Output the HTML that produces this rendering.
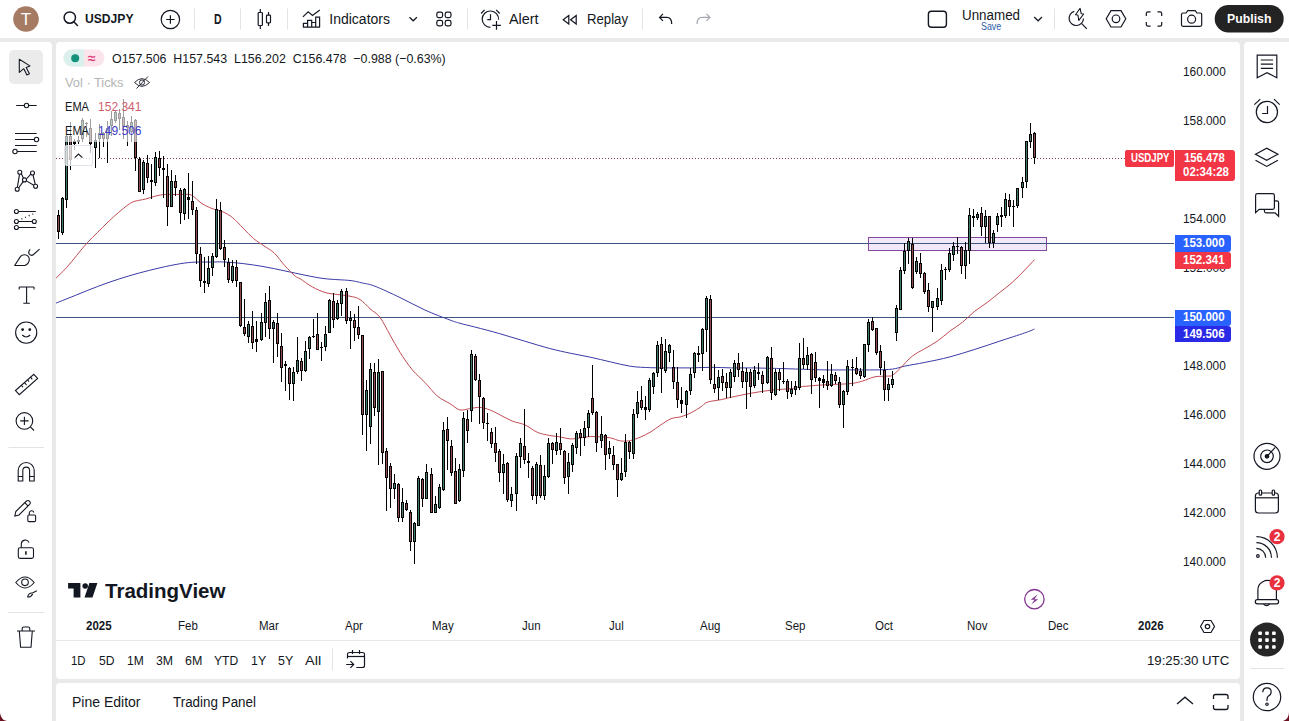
<!DOCTYPE html>
<html><head><meta charset="utf-8">
<style>
*{box-sizing:border-box}
html,body{margin:0;padding:0}
body{width:1289px;height:721px;overflow:hidden;background:#e9e9e9;position:relative;font-family:"Liberation Sans",sans-serif;color:#131722}
.abs{position:absolute}
.t{position:absolute;white-space:nowrap;transform-origin:0 50%}
.panel{position:absolute;background:#fff}
svg{overflow:visible}
</style></head><body>
<!-- panels -->
<div class="panel" style="left:0;top:0;width:1289px;height:38px"></div>
<div class="panel" style="left:0;top:42px;width:52px;height:679px;border-radius:0 4px 0 0"></div>
<div class="panel" style="left:56px;top:42px;width:1184px;height:637px;border-radius:4px"></div>
<div class="panel" style="left:56px;top:683px;width:1184px;height:38px;border-radius:4px 4px 0 0"></div>
<div class="panel" style="left:1244px;top:42px;width:45px;height:679px;border-radius:4px 0 0 0"></div>

<svg class="abs" style="left:0;top:0" width="1289" height="721" viewBox="0 0 1289 721">
<defs><clipPath id="plot"><rect x="56" y="42" width="1118" height="570"/></clipPath></defs>
<g clip-path="url(#plot)">
<line x1="56" y1="158.5" x2="1174" y2="158.5" stroke="#8a3a42" stroke-width="1" stroke-dasharray="1 2"/>
<rect x="868.5" y="237.5" width="178" height="13" fill="#f1e9fa" stroke="#84479a" stroke-width="1"/>
<line x1="56" y1="243.5" x2="1174" y2="243.5" stroke="#3d5580" stroke-width="1"/>
<line x1="56" y1="317.5" x2="1174" y2="317.5" stroke="#3d5580" stroke-width="1"/>
<path d="M56.0 303.1 C59.5 301.7 69.9 297.6 76.8 294.8 C83.7 292.0 90.7 289.1 97.6 286.5 C104.5 283.9 111.5 281.4 118.4 279.2 C125.3 276.9 132.3 274.9 139.2 273.0 C146.1 271.1 153.1 269.4 160.0 267.8 C166.9 266.2 174.9 264.6 180.8 263.6 C186.7 262.7 190.2 262.4 195.4 262.1 C200.6 261.9 207.5 262.1 212.0 262.1 C216.5 262.1 217.2 261.6 222.4 261.9 C227.6 262.1 236.3 262.8 243.2 263.6 C250.1 264.4 257.1 265.5 264.0 266.7 C270.9 267.9 277.8 269.4 284.8 270.9 C291.8 272.3 299.3 274.1 306.0 275.4 C312.7 276.7 317.7 277.8 325.0 278.7 C332.3 279.6 343.8 279.8 350.0 280.5 C356.2 281.2 358.2 282.1 362.4 283.0 C366.5 283.9 368.6 283.8 374.9 286.2 C381.1 288.6 391.6 293.5 399.9 297.5 C408.2 301.5 416.6 306.2 424.9 310.0 C433.2 313.8 444.0 317.8 449.9 320.0 C455.8 322.2 455.9 322.1 460.0 323.3 C464.1 324.5 468.2 325.3 474.8 327.0 C481.4 328.7 491.5 331.3 499.8 333.7 C508.1 336.1 516.5 338.7 524.8 341.2 C533.1 343.7 542.2 346.5 549.8 348.5 C557.4 350.5 563.5 351.8 570.2 353.2 C577.0 354.6 583.6 355.8 590.3 357.2 C597.0 358.6 603.8 360.4 610.5 361.9 C617.2 363.4 624.0 365.3 630.7 366.3 C637.4 367.3 644.1 367.4 650.8 367.7 C657.5 368.0 664.3 367.9 671.0 367.9 C677.7 367.9 684.5 368.0 691.2 367.9 C697.9 367.8 704.7 367.3 711.4 367.3 C718.1 367.3 724.8 367.8 731.5 367.9 C738.2 368.0 745.0 367.8 751.7 367.9 C758.4 368.0 765.2 368.1 771.9 368.3 C778.6 368.5 783.1 368.6 792.0 368.9 C800.9 369.2 815.3 369.7 825.0 369.9 C834.7 370.1 841.7 369.9 850.0 369.9 C858.3 369.9 867.8 370.0 874.9 369.9 C882.0 369.8 887.4 369.7 892.4 369.1 C897.4 368.5 899.5 367.2 904.9 366.1 C910.3 365.0 917.4 363.9 924.9 362.4 C932.4 360.9 941.6 359.1 949.9 356.9 C958.2 354.7 966.5 352.0 974.8 349.4 C983.1 346.8 991.5 343.9 999.8 341.1 C1008.1 338.4 1019.0 334.9 1024.8 332.9 C1030.6 330.9 1032.9 329.7 1034.5 329.1" fill="none" stroke="#3a3aa6" stroke-width="1"/>
<path d="M56.0 278.2 C57.7 276.5 62.9 271.6 66.4 267.8 C69.9 264.0 73.3 259.5 76.8 255.3 C80.3 251.1 83.7 246.6 87.2 242.8 C90.7 239.0 94.1 235.9 97.6 232.4 C101.1 228.9 104.5 225.3 108.0 222.0 C111.5 218.7 114.9 215.5 118.4 212.6 C121.9 209.7 126.0 206.2 128.8 204.3 C131.6 202.4 132.2 202.1 135.0 201.2 C137.8 200.3 141.9 200.0 145.4 199.1 C148.9 198.2 152.7 196.8 155.8 196.0 C158.9 195.2 161.4 194.8 164.2 194.5 C167.0 194.2 169.7 194.5 172.5 194.5 C175.3 194.5 177.7 194.4 180.8 194.5 C183.9 194.6 187.7 193.5 191.2 195.0 C194.7 196.5 198.1 201.1 201.6 203.3 C205.1 205.6 208.5 207.1 212.0 208.5 C215.5 209.9 218.9 210.0 222.4 211.6 C225.9 213.2 229.3 215.0 232.8 217.8 C236.3 220.6 239.7 224.7 243.2 228.2 C246.7 231.7 250.1 235.6 253.6 238.6 C257.1 241.6 260.5 243.5 264.0 245.9 C267.5 248.3 270.9 249.9 274.4 253.2 C277.9 256.5 281.3 261.9 284.8 265.7 C288.3 269.5 292.7 273.9 295.2 276.1 C297.7 278.3 297.1 276.9 300.0 278.7 C302.9 280.5 308.3 284.7 312.5 287.0 C316.7 289.3 320.8 291.2 325.0 292.5 C329.2 293.8 333.3 293.9 337.5 294.5 C341.7 295.1 346.2 295.4 350.0 296.2 C353.8 297.0 356.7 297.4 360.0 299.5 C363.3 301.6 366.7 305.7 370.0 308.7 C373.3 311.7 376.7 313.0 380.0 317.4 C383.3 321.8 386.7 329.1 390.0 334.9 C393.3 340.7 396.3 346.6 400.0 352.4 C403.7 358.2 408.2 364.9 412.4 369.9 C416.5 374.9 420.7 378.0 424.9 382.4 C429.1 386.8 433.2 392.6 437.4 396.1 C441.6 399.6 446.2 401.3 449.9 403.6 C453.6 405.9 456.5 409.1 459.8 409.9 C463.1 410.7 466.5 409.0 469.8 408.6 C473.1 408.2 476.5 407.2 479.8 407.4 C483.1 407.6 486.5 408.7 489.8 409.9 C493.1 411.1 496.1 412.9 499.8 414.8 C503.6 416.7 508.1 419.4 512.3 421.1 C516.5 422.8 520.6 422.9 524.8 424.8 C529.0 426.7 533.1 430.5 537.3 432.3 C541.5 434.1 546.0 434.7 549.8 435.5 C553.6 436.3 556.7 436.3 560.1 436.9 C563.5 437.5 566.8 438.7 570.2 438.9 C573.6 439.1 576.9 438.3 580.3 437.9 C583.6 437.5 586.9 436.7 590.3 436.5 C593.6 436.3 597.0 436.7 600.4 436.9 C603.8 437.1 607.1 437.2 610.5 437.9 C613.9 438.6 617.2 440.5 620.6 440.9 C624.0 441.3 627.3 441.2 630.7 440.5 C634.1 439.8 637.4 438.3 640.8 436.9 C644.1 435.5 647.4 433.9 650.8 431.9 C654.1 429.9 657.5 427.0 660.9 424.8 C664.3 422.6 667.6 420.1 671.0 418.7 C674.4 417.3 677.7 417.7 681.1 416.7 C684.5 415.7 687.8 414.4 691.2 412.7 C694.6 411.0 698.6 408.4 701.3 406.6 C704.0 404.9 703.9 403.4 707.3 402.2 C710.6 401.0 717.4 400.4 721.4 399.6 C725.4 398.8 726.5 398.3 731.5 397.2 C736.5 396.1 745.0 394.3 751.7 393.1 C758.4 391.9 765.2 390.9 771.9 390.1 C778.6 389.3 787.3 389.1 792.0 388.5 C796.7 387.9 794.5 387.4 800.0 386.8 C805.5 386.2 816.7 385.3 825.0 384.8 C833.3 384.3 843.8 384.2 850.0 383.6 C856.2 383.0 858.2 382.2 862.4 381.1 C866.5 380.0 870.7 377.6 874.9 376.8 C879.1 376.0 884.5 376.4 887.4 376.1 C890.3 375.9 890.3 376.6 892.4 375.3 C894.5 374.1 896.6 371.8 899.9 368.6 C903.2 365.4 908.2 359.4 912.4 356.1 C916.6 352.8 920.7 351.1 924.9 348.6 C929.1 346.1 933.2 344.0 937.4 341.1 C941.6 338.2 945.8 334.2 949.9 331.1 C954.0 328.0 958.1 325.7 962.3 322.4 C966.4 319.1 970.6 314.5 974.8 311.2 C979.0 307.9 983.1 305.5 987.3 302.4 C991.5 299.3 995.6 295.7 999.8 292.4 C1004.0 289.1 1008.1 286.1 1012.3 282.4 C1016.5 278.7 1021.1 273.8 1024.8 270.0 C1028.5 266.2 1032.9 261.3 1034.5 259.6" fill="none" stroke="#c24c56" stroke-width="1"/>
<g shape-rendering="crispEdges"><rect x="58" y="210" width="1" height="29" fill="#000"/><rect x="57" y="215" width="3" height="17" fill="#000"/><rect x="58" y="216" width="1" height="15" fill="#8e4c4c"/><rect x="62" y="197" width="1" height="38" fill="#000"/><rect x="61" y="198" width="3" height="35" fill="#000"/><rect x="62" y="199" width="1" height="33" fill="#44786d"/><rect x="66" y="134" width="1" height="74" fill="#000"/><rect x="65" y="136" width="3" height="64" fill="#000"/><rect x="66" y="137" width="1" height="62" fill="#44786d"/><rect x="70" y="122" width="1" height="48" fill="#000"/><rect x="69" y="136" width="3" height="24" fill="#000"/><rect x="70" y="137" width="1" height="22" fill="#8e4c4c"/><rect x="74" y="139" width="1" height="11" fill="#000"/><rect x="73" y="141" width="3" height="3" fill="#000"/><rect x="78" y="136" width="1" height="8" fill="#000"/><rect x="77" y="140" width="3" height="2" fill="#000"/><rect x="82" y="118" width="1" height="24" fill="#000"/><rect x="81" y="120" width="3" height="19" fill="#000"/><rect x="82" y="121" width="1" height="17" fill="#44786d"/><rect x="86" y="122" width="1" height="15" fill="#000"/><rect x="85" y="123" width="3" height="1" fill="#000"/><rect x="90" y="119" width="1" height="34" fill="#000"/><rect x="89" y="128" width="3" height="16" fill="#000"/><rect x="90" y="129" width="1" height="14" fill="#8e4c4c"/><rect x="95" y="133" width="1" height="35" fill="#000"/><rect x="94" y="140" width="3" height="8" fill="#000"/><rect x="95" y="141" width="1" height="6" fill="#44786d"/><rect x="99" y="124" width="1" height="34" fill="#000"/><rect x="98" y="133" width="3" height="6" fill="#000"/><rect x="99" y="134" width="1" height="4" fill="#44786d"/><rect x="103" y="132" width="1" height="15" fill="#000"/><rect x="102" y="133" width="3" height="6" fill="#000"/><rect x="103" y="134" width="1" height="4" fill="#8e4c4c"/><rect x="107" y="121" width="1" height="42" fill="#000"/><rect x="106" y="128" width="3" height="11" fill="#000"/><rect x="107" y="129" width="1" height="9" fill="#44786d"/><rect x="111" y="111" width="1" height="25" fill="#000"/><rect x="110" y="119" width="3" height="7" fill="#000"/><rect x="111" y="120" width="1" height="5" fill="#44786d"/><rect x="115" y="110" width="1" height="13" fill="#000"/><rect x="114" y="112" width="3" height="9" fill="#000"/><rect x="115" y="113" width="1" height="7" fill="#44786d"/><rect x="119" y="109" width="1" height="21" fill="#000"/><rect x="118" y="113" width="3" height="6" fill="#000"/><rect x="119" y="114" width="1" height="4" fill="#8e4c4c"/><rect x="123" y="99" width="1" height="40" fill="#000"/><rect x="122" y="117" width="3" height="9" fill="#000"/><rect x="123" y="118" width="1" height="7" fill="#8e4c4c"/><rect x="127" y="121" width="1" height="25" fill="#000"/><rect x="126" y="125" width="3" height="3" fill="#000"/><rect x="127" y="126" width="1" height="1" fill="#8e4c4c"/><rect x="131" y="116" width="1" height="26" fill="#000"/><rect x="130" y="122" width="3" height="10" fill="#000"/><rect x="131" y="123" width="1" height="8" fill="#44786d"/><rect x="135" y="119" width="1" height="52" fill="#000"/><rect x="134" y="120" width="3" height="38" fill="#000"/><rect x="135" y="121" width="1" height="36" fill="#8e4c4c"/><rect x="139" y="157" width="1" height="35" fill="#000"/><rect x="138" y="159" width="3" height="33" fill="#000"/><rect x="139" y="160" width="1" height="31" fill="#8e4c4c"/><rect x="143" y="160" width="1" height="34" fill="#000"/><rect x="142" y="162" width="3" height="28" fill="#000"/><rect x="143" y="163" width="1" height="26" fill="#44786d"/><rect x="147" y="155" width="1" height="28" fill="#000"/><rect x="146" y="163" width="3" height="15" fill="#000"/><rect x="147" y="164" width="1" height="13" fill="#8e4c4c"/><rect x="151" y="164" width="1" height="35" fill="#000"/><rect x="150" y="180" width="3" height="2" fill="#000"/><rect x="155" y="152" width="1" height="34" fill="#000"/><rect x="154" y="157" width="3" height="26" fill="#000"/><rect x="155" y="158" width="1" height="24" fill="#44786d"/><rect x="159" y="151" width="1" height="25" fill="#000"/><rect x="158" y="158" width="3" height="10" fill="#000"/><rect x="159" y="159" width="1" height="8" fill="#8e4c4c"/><rect x="163" y="156" width="1" height="42" fill="#000"/><rect x="162" y="168" width="3" height="2" fill="#000"/><rect x="167" y="164" width="1" height="62" fill="#000"/><rect x="166" y="176" width="3" height="31" fill="#000"/><rect x="167" y="177" width="1" height="29" fill="#8e4c4c"/><rect x="171" y="170" width="1" height="37" fill="#000"/><rect x="170" y="181" width="3" height="26" fill="#000"/><rect x="171" y="182" width="1" height="24" fill="#44786d"/><rect x="175" y="175" width="1" height="21" fill="#000"/><rect x="174" y="181" width="3" height="7" fill="#000"/><rect x="175" y="182" width="1" height="5" fill="#8e4c4c"/><rect x="180" y="188" width="1" height="36" fill="#000"/><rect x="179" y="190" width="3" height="23" fill="#000"/><rect x="180" y="191" width="1" height="21" fill="#8e4c4c"/><rect x="184" y="188" width="1" height="32" fill="#000"/><rect x="183" y="189" width="3" height="25" fill="#000"/><rect x="184" y="190" width="1" height="23" fill="#44786d"/><rect x="188" y="173" width="1" height="46" fill="#000"/><rect x="187" y="197" width="3" height="3" fill="#000"/><rect x="192" y="181" width="1" height="34" fill="#000"/><rect x="191" y="201" width="3" height="9" fill="#000"/><rect x="192" y="202" width="1" height="7" fill="#8e4c4c"/><rect x="196" y="207" width="1" height="57" fill="#000"/><rect x="195" y="210" width="3" height="44" fill="#000"/><rect x="196" y="211" width="1" height="42" fill="#8e4c4c"/><rect x="200" y="247" width="1" height="40" fill="#000"/><rect x="199" y="254" width="3" height="27" fill="#000"/><rect x="200" y="255" width="1" height="25" fill="#8e4c4c"/><rect x="204" y="257" width="1" height="36" fill="#000"/><rect x="203" y="281" width="3" height="2" fill="#000"/><rect x="208" y="256" width="1" height="31" fill="#000"/><rect x="207" y="268" width="3" height="16" fill="#000"/><rect x="208" y="269" width="1" height="14" fill="#44786d"/><rect x="212" y="253" width="1" height="23" fill="#000"/><rect x="211" y="256" width="3" height="12" fill="#000"/><rect x="212" y="257" width="1" height="10" fill="#44786d"/><rect x="216" y="199" width="1" height="59" fill="#000"/><rect x="215" y="209" width="3" height="48" fill="#000"/><rect x="216" y="210" width="1" height="46" fill="#44786d"/><rect x="220" y="202" width="1" height="48" fill="#000"/><rect x="219" y="210" width="3" height="39" fill="#000"/><rect x="220" y="211" width="1" height="37" fill="#8e4c4c"/><rect x="224" y="240" width="1" height="27" fill="#000"/><rect x="223" y="247" width="3" height="13" fill="#000"/><rect x="224" y="248" width="1" height="11" fill="#8e4c4c"/><rect x="228" y="258" width="1" height="25" fill="#000"/><rect x="227" y="262" width="3" height="18" fill="#000"/><rect x="228" y="263" width="1" height="16" fill="#8e4c4c"/><rect x="232" y="260" width="1" height="23" fill="#000"/><rect x="231" y="266" width="3" height="15" fill="#000"/><rect x="232" y="267" width="1" height="13" fill="#44786d"/><rect x="236" y="260" width="1" height="27" fill="#000"/><rect x="235" y="267" width="3" height="14" fill="#000"/><rect x="236" y="268" width="1" height="12" fill="#8e4c4c"/><rect x="240" y="282" width="1" height="45" fill="#000"/><rect x="239" y="282" width="3" height="44" fill="#000"/><rect x="240" y="283" width="1" height="42" fill="#8e4c4c"/><rect x="244" y="299" width="1" height="37" fill="#000"/><rect x="243" y="327" width="3" height="7" fill="#000"/><rect x="244" y="328" width="1" height="5" fill="#8e4c4c"/><rect x="248" y="321" width="1" height="22" fill="#000"/><rect x="247" y="324" width="3" height="13" fill="#000"/><rect x="248" y="325" width="1" height="11" fill="#44786d"/><rect x="252" y="311" width="1" height="38" fill="#000"/><rect x="251" y="326" width="3" height="17" fill="#000"/><rect x="252" y="327" width="1" height="15" fill="#8e4c4c"/><rect x="256" y="321" width="1" height="31" fill="#000"/><rect x="255" y="339" width="3" height="3" fill="#000"/><rect x="261" y="313" width="1" height="28" fill="#000"/><rect x="260" y="322" width="3" height="18" fill="#000"/><rect x="261" y="323" width="1" height="16" fill="#44786d"/><rect x="265" y="293" width="1" height="44" fill="#000"/><rect x="264" y="302" width="3" height="21" fill="#000"/><rect x="265" y="303" width="1" height="19" fill="#44786d"/><rect x="269" y="286" width="1" height="53" fill="#000"/><rect x="268" y="300" width="3" height="29" fill="#000"/><rect x="269" y="301" width="1" height="27" fill="#8e4c4c"/><rect x="273" y="320" width="1" height="43" fill="#000"/><rect x="272" y="322" width="3" height="7" fill="#000"/><rect x="273" y="323" width="1" height="5" fill="#44786d"/><rect x="277" y="313" width="1" height="44" fill="#000"/><rect x="276" y="323" width="3" height="21" fill="#000"/><rect x="277" y="324" width="1" height="19" fill="#8e4c4c"/><rect x="281" y="333" width="1" height="49" fill="#000"/><rect x="280" y="346" width="3" height="22" fill="#000"/><rect x="281" y="347" width="1" height="20" fill="#8e4c4c"/><rect x="285" y="361" width="1" height="30" fill="#000"/><rect x="284" y="364" width="3" height="2" fill="#000"/><rect x="289" y="367" width="1" height="33" fill="#000"/><rect x="288" y="368" width="3" height="16" fill="#000"/><rect x="289" y="369" width="1" height="14" fill="#8e4c4c"/><rect x="293" y="367" width="1" height="34" fill="#000"/><rect x="292" y="372" width="3" height="12" fill="#000"/><rect x="293" y="373" width="1" height="10" fill="#44786d"/><rect x="297" y="337" width="1" height="37" fill="#000"/><rect x="296" y="360" width="3" height="12" fill="#000"/><rect x="297" y="361" width="1" height="10" fill="#44786d"/><rect x="301" y="358" width="1" height="23" fill="#000"/><rect x="300" y="361" width="3" height="10" fill="#000"/><rect x="301" y="362" width="1" height="8" fill="#8e4c4c"/><rect x="305" y="341" width="1" height="31" fill="#000"/><rect x="304" y="351" width="3" height="20" fill="#000"/><rect x="305" y="352" width="1" height="18" fill="#44786d"/><rect x="309" y="336" width="1" height="23" fill="#000"/><rect x="308" y="337" width="3" height="12" fill="#000"/><rect x="309" y="338" width="1" height="10" fill="#44786d"/><rect x="313" y="319" width="1" height="19" fill="#000"/><rect x="312" y="336" width="3" height="1" fill="#000"/><rect x="317" y="313" width="1" height="37" fill="#000"/><rect x="316" y="334" width="3" height="16" fill="#000"/><rect x="317" y="335" width="1" height="14" fill="#8e4c4c"/><rect x="321" y="342" width="1" height="19" fill="#000"/><rect x="320" y="347" width="3" height="1" fill="#000"/><rect x="325" y="326" width="1" height="25" fill="#000"/><rect x="324" y="334" width="3" height="13" fill="#000"/><rect x="325" y="335" width="1" height="11" fill="#44786d"/><rect x="329" y="299" width="1" height="34" fill="#000"/><rect x="328" y="300" width="3" height="33" fill="#000"/><rect x="329" y="301" width="1" height="31" fill="#44786d"/><rect x="333" y="293" width="1" height="35" fill="#000"/><rect x="332" y="301" width="3" height="19" fill="#000"/><rect x="333" y="302" width="1" height="17" fill="#8e4c4c"/><rect x="337" y="300" width="1" height="20" fill="#000"/><rect x="336" y="303" width="3" height="16" fill="#000"/><rect x="337" y="304" width="1" height="14" fill="#44786d"/><rect x="341" y="289" width="1" height="27" fill="#000"/><rect x="340" y="291" width="3" height="13" fill="#000"/><rect x="341" y="292" width="1" height="11" fill="#44786d"/><rect x="346" y="288" width="1" height="36" fill="#000"/><rect x="345" y="291" width="3" height="30" fill="#000"/><rect x="346" y="292" width="1" height="28" fill="#8e4c4c"/><rect x="350" y="311" width="1" height="38" fill="#000"/><rect x="349" y="318" width="3" height="3" fill="#000"/><rect x="350" y="319" width="1" height="1" fill="#44786d"/><rect x="354" y="314" width="1" height="27" fill="#000"/><rect x="353" y="320" width="3" height="8" fill="#000"/><rect x="354" y="321" width="1" height="6" fill="#8e4c4c"/><rect x="358" y="306" width="1" height="33" fill="#000"/><rect x="357" y="327" width="3" height="8" fill="#000"/><rect x="358" y="328" width="1" height="6" fill="#8e4c4c"/><rect x="362" y="335" width="1" height="100" fill="#000"/><rect x="361" y="335" width="3" height="80" fill="#000"/><rect x="362" y="336" width="1" height="78" fill="#8e4c4c"/><rect x="366" y="380" width="1" height="71" fill="#000"/><rect x="365" y="390" width="3" height="25" fill="#000"/><rect x="366" y="391" width="1" height="23" fill="#44786d"/><rect x="370" y="363" width="1" height="81" fill="#000"/><rect x="369" y="369" width="3" height="58" fill="#000"/><rect x="370" y="370" width="1" height="56" fill="#44786d"/><rect x="374" y="363" width="1" height="53" fill="#000"/><rect x="373" y="372" width="3" height="36" fill="#000"/><rect x="374" y="373" width="1" height="34" fill="#8e4c4c"/><rect x="378" y="359" width="1" height="106" fill="#000"/><rect x="377" y="372" width="3" height="40" fill="#000"/><rect x="378" y="373" width="1" height="38" fill="#44786d"/><rect x="382" y="371" width="1" height="93" fill="#000"/><rect x="381" y="371" width="3" height="82" fill="#000"/><rect x="382" y="372" width="1" height="80" fill="#8e4c4c"/><rect x="386" y="448" width="1" height="63" fill="#000"/><rect x="385" y="451" width="3" height="27" fill="#000"/><rect x="386" y="452" width="1" height="25" fill="#8e4c4c"/><rect x="390" y="463" width="1" height="45" fill="#000"/><rect x="389" y="466" width="3" height="23" fill="#000"/><rect x="390" y="467" width="1" height="21" fill="#8e4c4c"/><rect x="394" y="474" width="1" height="25" fill="#000"/><rect x="393" y="483" width="3" height="6" fill="#000"/><rect x="394" y="484" width="1" height="4" fill="#44786d"/><rect x="398" y="483" width="1" height="39" fill="#000"/><rect x="397" y="484" width="3" height="34" fill="#000"/><rect x="398" y="485" width="1" height="32" fill="#8e4c4c"/><rect x="402" y="488" width="1" height="34" fill="#000"/><rect x="401" y="502" width="3" height="16" fill="#000"/><rect x="402" y="503" width="1" height="14" fill="#44786d"/><rect x="406" y="500" width="1" height="11" fill="#000"/><rect x="405" y="503" width="3" height="7" fill="#000"/><rect x="406" y="504" width="1" height="5" fill="#8e4c4c"/><rect x="410" y="510" width="1" height="41" fill="#000"/><rect x="409" y="512" width="3" height="30" fill="#000"/><rect x="410" y="513" width="1" height="28" fill="#8e4c4c"/><rect x="414" y="522" width="1" height="42" fill="#000"/><rect x="413" y="523" width="3" height="19" fill="#000"/><rect x="414" y="524" width="1" height="17" fill="#44786d"/><rect x="418" y="476" width="1" height="50" fill="#000"/><rect x="417" y="478" width="3" height="48" fill="#000"/><rect x="418" y="479" width="1" height="46" fill="#44786d"/><rect x="422" y="478" width="1" height="29" fill="#000"/><rect x="421" y="479" width="3" height="20" fill="#000"/><rect x="422" y="480" width="1" height="18" fill="#8e4c4c"/><rect x="426" y="464" width="1" height="35" fill="#000"/><rect x="425" y="472" width="3" height="27" fill="#000"/><rect x="426" y="473" width="1" height="25" fill="#44786d"/><rect x="431" y="468" width="1" height="45" fill="#000"/><rect x="430" y="474" width="3" height="39" fill="#000"/><rect x="431" y="475" width="1" height="37" fill="#8e4c4c"/><rect x="435" y="496" width="1" height="17" fill="#000"/><rect x="434" y="504" width="3" height="9" fill="#000"/><rect x="435" y="505" width="1" height="7" fill="#44786d"/><rect x="439" y="484" width="1" height="25" fill="#000"/><rect x="438" y="487" width="3" height="21" fill="#000"/><rect x="439" y="488" width="1" height="19" fill="#44786d"/><rect x="443" y="422" width="1" height="69" fill="#000"/><rect x="442" y="430" width="3" height="60" fill="#000"/><rect x="443" y="431" width="1" height="58" fill="#44786d"/><rect x="447" y="417" width="1" height="53" fill="#000"/><rect x="446" y="429" width="3" height="12" fill="#000"/><rect x="447" y="430" width="1" height="10" fill="#8e4c4c"/><rect x="451" y="440" width="1" height="36" fill="#000"/><rect x="450" y="446" width="3" height="27" fill="#000"/><rect x="451" y="447" width="1" height="25" fill="#8e4c4c"/><rect x="455" y="458" width="1" height="46" fill="#000"/><rect x="454" y="471" width="3" height="33" fill="#000"/><rect x="455" y="472" width="1" height="31" fill="#8e4c4c"/><rect x="459" y="464" width="1" height="38" fill="#000"/><rect x="458" y="469" width="3" height="32" fill="#000"/><rect x="459" y="470" width="1" height="30" fill="#44786d"/><rect x="463" y="412" width="1" height="65" fill="#000"/><rect x="462" y="418" width="3" height="53" fill="#000"/><rect x="463" y="419" width="1" height="51" fill="#44786d"/><rect x="467" y="410" width="1" height="33" fill="#000"/><rect x="466" y="419" width="3" height="12" fill="#000"/><rect x="467" y="420" width="1" height="10" fill="#8e4c4c"/><rect x="471" y="350" width="1" height="72" fill="#000"/><rect x="470" y="354" width="3" height="57" fill="#000"/><rect x="471" y="355" width="1" height="55" fill="#44786d"/><rect x="475" y="354" width="1" height="27" fill="#000"/><rect x="474" y="356" width="3" height="24" fill="#000"/><rect x="475" y="357" width="1" height="22" fill="#8e4c4c"/><rect x="479" y="374" width="1" height="50" fill="#000"/><rect x="478" y="380" width="3" height="17" fill="#000"/><rect x="479" y="381" width="1" height="15" fill="#8e4c4c"/><rect x="483" y="397" width="1" height="32" fill="#000"/><rect x="482" y="398" width="3" height="25" fill="#000"/><rect x="483" y="399" width="1" height="23" fill="#8e4c4c"/><rect x="487" y="413" width="1" height="28" fill="#000"/><rect x="486" y="423" width="3" height="1" fill="#000"/><rect x="491" y="428" width="1" height="20" fill="#000"/><rect x="490" y="432" width="3" height="12" fill="#000"/><rect x="491" y="433" width="1" height="10" fill="#8e4c4c"/><rect x="495" y="427" width="1" height="35" fill="#000"/><rect x="494" y="443" width="3" height="10" fill="#000"/><rect x="495" y="444" width="1" height="8" fill="#8e4c4c"/><rect x="499" y="449" width="1" height="33" fill="#000"/><rect x="498" y="451" width="3" height="22" fill="#000"/><rect x="499" y="452" width="1" height="20" fill="#8e4c4c"/><rect x="503" y="454" width="1" height="40" fill="#000"/><rect x="502" y="464" width="3" height="9" fill="#000"/><rect x="503" y="465" width="1" height="7" fill="#44786d"/><rect x="507" y="462" width="1" height="40" fill="#000"/><rect x="506" y="463" width="3" height="37" fill="#000"/><rect x="507" y="464" width="1" height="35" fill="#8e4c4c"/><rect x="511" y="487" width="1" height="20" fill="#000"/><rect x="510" y="494" width="3" height="7" fill="#000"/><rect x="511" y="495" width="1" height="5" fill="#44786d"/><rect x="516" y="453" width="1" height="58" fill="#000"/><rect x="515" y="456" width="3" height="38" fill="#000"/><rect x="516" y="457" width="1" height="36" fill="#44786d"/><rect x="520" y="438" width="1" height="30" fill="#000"/><rect x="519" y="443" width="3" height="14" fill="#000"/><rect x="520" y="444" width="1" height="12" fill="#44786d"/><rect x="524" y="409" width="1" height="55" fill="#000"/><rect x="523" y="446" width="3" height="14" fill="#000"/><rect x="524" y="447" width="1" height="12" fill="#8e4c4c"/><rect x="528" y="453" width="1" height="25" fill="#000"/><rect x="527" y="461" width="3" height="2" fill="#000"/><rect x="532" y="466" width="1" height="34" fill="#000"/><rect x="531" y="468" width="3" height="28" fill="#000"/><rect x="532" y="469" width="1" height="26" fill="#8e4c4c"/><rect x="536" y="462" width="1" height="42" fill="#000"/><rect x="535" y="464" width="3" height="32" fill="#000"/><rect x="536" y="465" width="1" height="30" fill="#44786d"/><rect x="540" y="455" width="1" height="43" fill="#000"/><rect x="539" y="465" width="3" height="31" fill="#000"/><rect x="540" y="466" width="1" height="29" fill="#8e4c4c"/><rect x="544" y="465" width="1" height="35" fill="#000"/><rect x="543" y="476" width="3" height="20" fill="#000"/><rect x="544" y="477" width="1" height="18" fill="#44786d"/><rect x="548" y="438" width="1" height="40" fill="#000"/><rect x="547" y="443" width="3" height="34" fill="#000"/><rect x="548" y="444" width="1" height="32" fill="#44786d"/><rect x="552" y="442" width="1" height="22" fill="#000"/><rect x="551" y="443" width="3" height="7" fill="#000"/><rect x="552" y="444" width="1" height="5" fill="#8e4c4c"/><rect x="556" y="433" width="1" height="22" fill="#000"/><rect x="555" y="442" width="3" height="9" fill="#000"/><rect x="556" y="443" width="1" height="7" fill="#44786d"/><rect x="560" y="428" width="1" height="27" fill="#000"/><rect x="559" y="443" width="3" height="7" fill="#000"/><rect x="560" y="444" width="1" height="5" fill="#8e4c4c"/><rect x="564" y="450" width="1" height="34" fill="#000"/><rect x="563" y="451" width="3" height="27" fill="#000"/><rect x="564" y="452" width="1" height="25" fill="#8e4c4c"/><rect x="568" y="453" width="1" height="41" fill="#000"/><rect x="567" y="462" width="3" height="15" fill="#000"/><rect x="568" y="463" width="1" height="13" fill="#44786d"/><rect x="572" y="443" width="1" height="29" fill="#000"/><rect x="571" y="445" width="3" height="20" fill="#000"/><rect x="572" y="446" width="1" height="18" fill="#44786d"/><rect x="576" y="431" width="1" height="23" fill="#000"/><rect x="575" y="433" width="3" height="15" fill="#000"/><rect x="576" y="434" width="1" height="13" fill="#44786d"/><rect x="580" y="429" width="1" height="27" fill="#000"/><rect x="579" y="433" width="3" height="5" fill="#000"/><rect x="580" y="434" width="1" height="3" fill="#8e4c4c"/><rect x="584" y="421" width="1" height="25" fill="#000"/><rect x="583" y="428" width="3" height="10" fill="#000"/><rect x="584" y="429" width="1" height="8" fill="#44786d"/><rect x="588" y="410" width="1" height="27" fill="#000"/><rect x="587" y="413" width="3" height="15" fill="#000"/><rect x="588" y="414" width="1" height="13" fill="#44786d"/><rect x="592" y="365" width="1" height="50" fill="#000"/><rect x="591" y="398" width="3" height="15" fill="#000"/><rect x="592" y="399" width="1" height="13" fill="#8e4c4c"/><rect x="596" y="411" width="1" height="41" fill="#000"/><rect x="595" y="412" width="3" height="31" fill="#000"/><rect x="596" y="413" width="1" height="29" fill="#8e4c4c"/><rect x="601" y="416" width="1" height="32" fill="#000"/><rect x="600" y="434" width="3" height="7" fill="#000"/><rect x="601" y="435" width="1" height="5" fill="#44786d"/><rect x="605" y="434" width="1" height="36" fill="#000"/><rect x="604" y="435" width="3" height="20" fill="#000"/><rect x="605" y="436" width="1" height="18" fill="#8e4c4c"/><rect x="609" y="441" width="1" height="18" fill="#000"/><rect x="608" y="448" width="3" height="6" fill="#000"/><rect x="609" y="449" width="1" height="4" fill="#44786d"/><rect x="613" y="446" width="1" height="24" fill="#000"/><rect x="612" y="455" width="3" height="10" fill="#000"/><rect x="613" y="456" width="1" height="8" fill="#8e4c4c"/><rect x="617" y="464" width="1" height="33" fill="#000"/><rect x="616" y="464" width="3" height="16" fill="#000"/><rect x="617" y="465" width="1" height="14" fill="#8e4c4c"/><rect x="621" y="458" width="1" height="23" fill="#000"/><rect x="620" y="473" width="3" height="7" fill="#000"/><rect x="621" y="474" width="1" height="5" fill="#44786d"/><rect x="625" y="434" width="1" height="43" fill="#000"/><rect x="624" y="442" width="3" height="30" fill="#000"/><rect x="625" y="443" width="1" height="28" fill="#44786d"/><rect x="629" y="441" width="1" height="18" fill="#000"/><rect x="628" y="442" width="3" height="10" fill="#000"/><rect x="629" y="443" width="1" height="8" fill="#8e4c4c"/><rect x="633" y="409" width="1" height="50" fill="#000"/><rect x="632" y="414" width="3" height="40" fill="#000"/><rect x="633" y="415" width="1" height="38" fill="#44786d"/><rect x="637" y="391" width="1" height="27" fill="#000"/><rect x="636" y="402" width="3" height="12" fill="#000"/><rect x="637" y="403" width="1" height="10" fill="#44786d"/><rect x="641" y="386" width="1" height="24" fill="#000"/><rect x="640" y="400" width="3" height="8" fill="#000"/><rect x="641" y="401" width="1" height="6" fill="#8e4c4c"/><rect x="645" y="396" width="1" height="24" fill="#000"/><rect x="644" y="407" width="3" height="3" fill="#000"/><rect x="649" y="378" width="1" height="34" fill="#000"/><rect x="648" y="380" width="3" height="30" fill="#000"/><rect x="649" y="381" width="1" height="28" fill="#44786d"/><rect x="653" y="372" width="1" height="22" fill="#000"/><rect x="652" y="373" width="3" height="14" fill="#000"/><rect x="653" y="374" width="1" height="12" fill="#44786d"/><rect x="657" y="341" width="1" height="36" fill="#000"/><rect x="656" y="345" width="3" height="28" fill="#000"/><rect x="657" y="346" width="1" height="26" fill="#44786d"/><rect x="661" y="337" width="1" height="56" fill="#000"/><rect x="660" y="344" width="3" height="25" fill="#000"/><rect x="661" y="345" width="1" height="23" fill="#8e4c4c"/><rect x="665" y="339" width="1" height="34" fill="#000"/><rect x="664" y="351" width="3" height="20" fill="#000"/><rect x="665" y="352" width="1" height="18" fill="#44786d"/><rect x="669" y="344" width="1" height="18" fill="#000"/><rect x="668" y="345" width="3" height="8" fill="#000"/><rect x="669" y="346" width="1" height="6" fill="#44786d"/><rect x="673" y="350" width="1" height="39" fill="#000"/><rect x="672" y="367" width="3" height="15" fill="#000"/><rect x="673" y="368" width="1" height="13" fill="#8e4c4c"/><rect x="677" y="367" width="1" height="41" fill="#000"/><rect x="676" y="382" width="3" height="18" fill="#000"/><rect x="677" y="383" width="1" height="16" fill="#8e4c4c"/><rect x="681" y="387" width="1" height="26" fill="#000"/><rect x="680" y="400" width="3" height="4" fill="#000"/><rect x="686" y="390" width="1" height="28" fill="#000"/><rect x="685" y="391" width="3" height="14" fill="#000"/><rect x="686" y="392" width="1" height="12" fill="#44786d"/><rect x="690" y="368" width="1" height="27" fill="#000"/><rect x="689" y="374" width="3" height="17" fill="#000"/><rect x="690" y="375" width="1" height="15" fill="#44786d"/><rect x="694" y="352" width="1" height="26" fill="#000"/><rect x="693" y="353" width="3" height="20" fill="#000"/><rect x="694" y="354" width="1" height="18" fill="#44786d"/><rect x="698" y="346" width="1" height="16" fill="#000"/><rect x="697" y="353" width="3" height="2" fill="#000"/><rect x="702" y="328" width="1" height="43" fill="#000"/><rect x="701" y="329" width="3" height="25" fill="#000"/><rect x="702" y="330" width="1" height="23" fill="#44786d"/><rect x="706" y="296" width="1" height="56" fill="#000"/><rect x="705" y="298" width="3" height="32" fill="#000"/><rect x="706" y="299" width="1" height="30" fill="#44786d"/><rect x="710" y="295" width="1" height="89" fill="#000"/><rect x="709" y="299" width="3" height="81" fill="#000"/><rect x="710" y="300" width="1" height="79" fill="#8e4c4c"/><rect x="714" y="364" width="1" height="29" fill="#000"/><rect x="713" y="384" width="3" height="5" fill="#000"/><rect x="714" y="385" width="1" height="3" fill="#8e4c4c"/><rect x="718" y="370" width="1" height="30" fill="#000"/><rect x="717" y="377" width="3" height="11" fill="#000"/><rect x="718" y="378" width="1" height="9" fill="#44786d"/><rect x="722" y="369" width="1" height="22" fill="#000"/><rect x="721" y="376" width="3" height="7" fill="#000"/><rect x="722" y="377" width="1" height="5" fill="#8e4c4c"/><rect x="726" y="373" width="1" height="25" fill="#000"/><rect x="725" y="382" width="3" height="6" fill="#000"/><rect x="726" y="383" width="1" height="4" fill="#8e4c4c"/><rect x="730" y="369" width="1" height="29" fill="#000"/><rect x="729" y="372" width="3" height="16" fill="#000"/><rect x="730" y="373" width="1" height="14" fill="#44786d"/><rect x="734" y="360" width="1" height="22" fill="#000"/><rect x="733" y="363" width="3" height="14" fill="#000"/><rect x="734" y="364" width="1" height="12" fill="#44786d"/><rect x="738" y="353" width="1" height="24" fill="#000"/><rect x="737" y="363" width="3" height="7" fill="#000"/><rect x="738" y="364" width="1" height="5" fill="#8e4c4c"/><rect x="742" y="362" width="1" height="26" fill="#000"/><rect x="741" y="371" width="3" height="11" fill="#000"/><rect x="742" y="372" width="1" height="9" fill="#8e4c4c"/><rect x="746" y="368" width="1" height="41" fill="#000"/><rect x="745" y="372" width="3" height="10" fill="#000"/><rect x="746" y="373" width="1" height="8" fill="#44786d"/><rect x="750" y="369" width="1" height="28" fill="#000"/><rect x="749" y="372" width="3" height="15" fill="#000"/><rect x="750" y="373" width="1" height="13" fill="#8e4c4c"/><rect x="754" y="366" width="1" height="22" fill="#000"/><rect x="753" y="370" width="3" height="16" fill="#000"/><rect x="754" y="371" width="1" height="14" fill="#44786d"/><rect x="758" y="363" width="1" height="17" fill="#000"/><rect x="757" y="372" width="3" height="2" fill="#000"/><rect x="762" y="371" width="1" height="22" fill="#000"/><rect x="761" y="375" width="3" height="9" fill="#000"/><rect x="762" y="376" width="1" height="7" fill="#8e4c4c"/><rect x="767" y="356" width="1" height="28" fill="#000"/><rect x="766" y="357" width="3" height="26" fill="#000"/><rect x="767" y="358" width="1" height="24" fill="#44786d"/><rect x="771" y="347" width="1" height="53" fill="#000"/><rect x="770" y="358" width="3" height="35" fill="#000"/><rect x="771" y="359" width="1" height="33" fill="#8e4c4c"/><rect x="775" y="369" width="1" height="27" fill="#000"/><rect x="774" y="372" width="3" height="23" fill="#000"/><rect x="775" y="373" width="1" height="21" fill="#44786d"/><rect x="779" y="369" width="1" height="22" fill="#000"/><rect x="778" y="372" width="3" height="8" fill="#000"/><rect x="779" y="373" width="1" height="6" fill="#8e4c4c"/><rect x="783" y="362" width="1" height="22" fill="#000"/><rect x="782" y="381" width="3" height="1" fill="#000"/><rect x="787" y="379" width="1" height="20" fill="#000"/><rect x="786" y="381" width="3" height="11" fill="#000"/><rect x="787" y="382" width="1" height="9" fill="#8e4c4c"/><rect x="791" y="381" width="1" height="16" fill="#000"/><rect x="790" y="389" width="3" height="5" fill="#000"/><rect x="791" y="390" width="1" height="3" fill="#44786d"/><rect x="795" y="381" width="1" height="14" fill="#000"/><rect x="794" y="386" width="3" height="4" fill="#000"/><rect x="795" y="387" width="1" height="2" fill="#44786d"/><rect x="799" y="343" width="1" height="47" fill="#000"/><rect x="798" y="358" width="3" height="30" fill="#000"/><rect x="799" y="359" width="1" height="28" fill="#44786d"/><rect x="803" y="338" width="1" height="31" fill="#000"/><rect x="802" y="358" width="3" height="7" fill="#000"/><rect x="803" y="359" width="1" height="5" fill="#8e4c4c"/><rect x="807" y="347" width="1" height="23" fill="#000"/><rect x="806" y="355" width="3" height="10" fill="#000"/><rect x="807" y="356" width="1" height="8" fill="#44786d"/><rect x="811" y="353" width="1" height="41" fill="#000"/><rect x="810" y="354" width="3" height="26" fill="#000"/><rect x="811" y="355" width="1" height="24" fill="#8e4c4c"/><rect x="815" y="352" width="1" height="30" fill="#000"/><rect x="814" y="362" width="3" height="16" fill="#000"/><rect x="815" y="363" width="1" height="14" fill="#8e4c4c"/><rect x="819" y="377" width="1" height="31" fill="#000"/><rect x="818" y="378" width="3" height="3" fill="#000"/><rect x="823" y="375" width="1" height="13" fill="#000"/><rect x="822" y="379" width="3" height="4" fill="#000"/><rect x="827" y="361" width="1" height="29" fill="#000"/><rect x="826" y="381" width="3" height="5" fill="#000"/><rect x="827" y="382" width="1" height="3" fill="#8e4c4c"/><rect x="831" y="364" width="1" height="23" fill="#000"/><rect x="830" y="374" width="3" height="12" fill="#000"/><rect x="831" y="375" width="1" height="10" fill="#44786d"/><rect x="835" y="372" width="1" height="12" fill="#000"/><rect x="834" y="375" width="3" height="6" fill="#000"/><rect x="835" y="376" width="1" height="4" fill="#8e4c4c"/><rect x="839" y="377" width="1" height="31" fill="#000"/><rect x="838" y="382" width="3" height="23" fill="#000"/><rect x="839" y="383" width="1" height="21" fill="#8e4c4c"/><rect x="843" y="390" width="1" height="38" fill="#000"/><rect x="842" y="391" width="3" height="14" fill="#000"/><rect x="843" y="392" width="1" height="12" fill="#44786d"/><rect x="847" y="360" width="1" height="35" fill="#000"/><rect x="846" y="366" width="3" height="26" fill="#000"/><rect x="847" y="367" width="1" height="24" fill="#44786d"/><rect x="852" y="359" width="1" height="27" fill="#000"/><rect x="851" y="367" width="3" height="1" fill="#000"/><rect x="856" y="357" width="1" height="18" fill="#000"/><rect x="855" y="368" width="3" height="6" fill="#000"/><rect x="856" y="369" width="1" height="4" fill="#8e4c4c"/><rect x="860" y="368" width="1" height="11" fill="#000"/><rect x="859" y="371" width="3" height="5" fill="#000"/><rect x="860" y="372" width="1" height="3" fill="#8e4c4c"/><rect x="864" y="344" width="1" height="34" fill="#000"/><rect x="863" y="344" width="3" height="33" fill="#000"/><rect x="864" y="345" width="1" height="31" fill="#44786d"/><rect x="868" y="319" width="1" height="33" fill="#000"/><rect x="867" y="322" width="3" height="23" fill="#000"/><rect x="868" y="323" width="1" height="21" fill="#44786d"/><rect x="872" y="317" width="1" height="14" fill="#000"/><rect x="871" y="321" width="3" height="9" fill="#000"/><rect x="872" y="322" width="1" height="7" fill="#8e4c4c"/><rect x="876" y="328" width="1" height="27" fill="#000"/><rect x="875" y="328" width="3" height="25" fill="#000"/><rect x="876" y="329" width="1" height="23" fill="#8e4c4c"/><rect x="880" y="345" width="1" height="30" fill="#000"/><rect x="879" y="351" width="3" height="17" fill="#000"/><rect x="880" y="352" width="1" height="15" fill="#8e4c4c"/><rect x="884" y="361" width="1" height="40" fill="#000"/><rect x="883" y="370" width="3" height="20" fill="#000"/><rect x="884" y="371" width="1" height="18" fill="#8e4c4c"/><rect x="888" y="378" width="1" height="23" fill="#000"/><rect x="887" y="384" width="3" height="6" fill="#000"/><rect x="888" y="385" width="1" height="4" fill="#44786d"/><rect x="892" y="371" width="1" height="17" fill="#000"/><rect x="891" y="379" width="3" height="6" fill="#000"/><rect x="892" y="380" width="1" height="4" fill="#44786d"/><rect x="896" y="305" width="1" height="36" fill="#000"/><rect x="895" y="308" width="3" height="25" fill="#000"/><rect x="896" y="309" width="1" height="23" fill="#44786d"/><rect x="900" y="267" width="1" height="43" fill="#000"/><rect x="899" y="270" width="3" height="40" fill="#000"/><rect x="900" y="271" width="1" height="38" fill="#44786d"/><rect x="904" y="243" width="1" height="31" fill="#000"/><rect x="903" y="251" width="3" height="20" fill="#000"/><rect x="904" y="252" width="1" height="18" fill="#44786d"/><rect x="908" y="238" width="1" height="26" fill="#000"/><rect x="907" y="241" width="3" height="10" fill="#000"/><rect x="908" y="242" width="1" height="8" fill="#44786d"/><rect x="912" y="238" width="1" height="51" fill="#000"/><rect x="911" y="244" width="3" height="44" fill="#000"/><rect x="912" y="245" width="1" height="42" fill="#8e4c4c"/><rect x="916" y="257" width="1" height="17" fill="#000"/><rect x="915" y="261" width="3" height="11" fill="#000"/><rect x="916" y="262" width="1" height="9" fill="#44786d"/><rect x="920" y="253" width="1" height="25" fill="#000"/><rect x="919" y="263" width="3" height="11" fill="#000"/><rect x="920" y="264" width="1" height="9" fill="#8e4c4c"/><rect x="924" y="272" width="1" height="22" fill="#000"/><rect x="923" y="273" width="3" height="19" fill="#000"/><rect x="924" y="274" width="1" height="17" fill="#8e4c4c"/><rect x="928" y="283" width="1" height="29" fill="#000"/><rect x="927" y="290" width="3" height="17" fill="#000"/><rect x="928" y="291" width="1" height="15" fill="#8e4c4c"/><rect x="932" y="301" width="1" height="31" fill="#000"/><rect x="931" y="301" width="3" height="7" fill="#000"/><rect x="932" y="302" width="1" height="5" fill="#44786d"/><rect x="937" y="288" width="1" height="22" fill="#000"/><rect x="936" y="298" width="3" height="9" fill="#000"/><rect x="937" y="299" width="1" height="7" fill="#44786d"/><rect x="941" y="264" width="1" height="41" fill="#000"/><rect x="940" y="270" width="3" height="31" fill="#000"/><rect x="941" y="271" width="1" height="29" fill="#44786d"/><rect x="945" y="267" width="1" height="13" fill="#000"/><rect x="944" y="269" width="3" height="1" fill="#000"/><rect x="949" y="248" width="1" height="24" fill="#000"/><rect x="948" y="253" width="3" height="17" fill="#000"/><rect x="949" y="254" width="1" height="15" fill="#44786d"/><rect x="953" y="242" width="1" height="19" fill="#000"/><rect x="952" y="246" width="3" height="9" fill="#000"/><rect x="953" y="247" width="1" height="7" fill="#44786d"/><rect x="957" y="237" width="1" height="17" fill="#000"/><rect x="956" y="246" width="3" height="1" fill="#000"/><rect x="961" y="246" width="1" height="28" fill="#000"/><rect x="960" y="247" width="3" height="19" fill="#000"/><rect x="961" y="248" width="1" height="17" fill="#8e4c4c"/><rect x="965" y="242" width="1" height="37" fill="#000"/><rect x="964" y="250" width="3" height="16" fill="#000"/><rect x="965" y="251" width="1" height="14" fill="#44786d"/><rect x="969" y="208" width="1" height="56" fill="#000"/><rect x="968" y="215" width="3" height="36" fill="#000"/><rect x="969" y="216" width="1" height="34" fill="#44786d"/><rect x="973" y="209" width="1" height="18" fill="#000"/><rect x="972" y="216" width="3" height="2" fill="#000"/><rect x="977" y="212" width="1" height="8" fill="#000"/><rect x="976" y="214" width="3" height="4" fill="#000"/><rect x="977" y="215" width="1" height="2" fill="#44786d"/><rect x="981" y="207" width="1" height="29" fill="#000"/><rect x="980" y="213" width="3" height="14" fill="#000"/><rect x="981" y="214" width="1" height="12" fill="#8e4c4c"/><rect x="985" y="210" width="1" height="33" fill="#000"/><rect x="984" y="216" width="3" height="11" fill="#000"/><rect x="985" y="217" width="1" height="9" fill="#44786d"/><rect x="989" y="216" width="1" height="32" fill="#000"/><rect x="988" y="216" width="3" height="27" fill="#000"/><rect x="989" y="217" width="1" height="25" fill="#8e4c4c"/><rect x="993" y="230" width="1" height="18" fill="#000"/><rect x="992" y="233" width="3" height="10" fill="#000"/><rect x="993" y="234" width="1" height="8" fill="#44786d"/><rect x="997" y="213" width="1" height="19" fill="#000"/><rect x="996" y="216" width="3" height="9" fill="#000"/><rect x="997" y="217" width="1" height="7" fill="#44786d"/><rect x="1001" y="207" width="1" height="20" fill="#000"/><rect x="1000" y="215" width="3" height="2" fill="#000"/><rect x="1005" y="193" width="1" height="25" fill="#000"/><rect x="1004" y="199" width="3" height="17" fill="#000"/><rect x="1005" y="200" width="1" height="15" fill="#44786d"/><rect x="1009" y="194" width="1" height="22" fill="#000"/><rect x="1008" y="200" width="3" height="7" fill="#000"/><rect x="1009" y="201" width="1" height="5" fill="#8e4c4c"/><rect x="1013" y="200" width="1" height="27" fill="#000"/><rect x="1012" y="206" width="3" height="1" fill="#000"/><rect x="1017" y="188" width="1" height="20" fill="#000"/><rect x="1016" y="188" width="3" height="18" fill="#000"/><rect x="1017" y="189" width="1" height="16" fill="#44786d"/><rect x="1022" y="177" width="1" height="21" fill="#000"/><rect x="1021" y="182" width="3" height="6" fill="#000"/><rect x="1022" y="183" width="1" height="4" fill="#44786d"/><rect x="1026" y="141" width="1" height="47" fill="#000"/><rect x="1025" y="141" width="3" height="41" fill="#000"/><rect x="1026" y="142" width="1" height="39" fill="#44786d"/><rect x="1030" y="123" width="1" height="25" fill="#000"/><rect x="1029" y="134" width="3" height="8" fill="#000"/><rect x="1030" y="135" width="1" height="6" fill="#44786d"/><rect x="1034" y="132" width="1" height="32" fill="#000"/><rect x="1033" y="133" width="3" height="25" fill="#000"/><rect x="1034" y="134" width="1" height="23" fill="#8e4c4c"/></g>
</g>
</svg><div class="t" style="left:1183.3px;top:65.9px;font-size:12.5px;line-height:12.5px;color:#131722;transform:scaleX(0.947);">160.000</div>
<div class="t" style="left:1183.3px;top:114.9px;font-size:12.5px;line-height:12.5px;color:#131722;transform:scaleX(0.947);">158.000</div>
<div class="t" style="left:1183.3px;top:212.9px;font-size:12.5px;line-height:12.5px;color:#131722;transform:scaleX(0.947);">154.000</div>
<div class="t" style="left:1183.3px;top:359.9px;font-size:12.5px;line-height:12.5px;color:#131722;transform:scaleX(0.947);">148.000</div>
<div class="t" style="left:1183.3px;top:408.9px;font-size:12.5px;line-height:12.5px;color:#131722;transform:scaleX(0.947);">146.000</div>
<div class="t" style="left:1183.3px;top:457.9px;font-size:12.5px;line-height:12.5px;color:#131722;transform:scaleX(0.947);">144.000</div>
<div class="t" style="left:1183.3px;top:506.9px;font-size:12.5px;line-height:12.5px;color:#131722;transform:scaleX(0.947);">142.000</div>
<div class="t" style="left:1183.3px;top:555.9px;font-size:12.5px;line-height:12.5px;color:#131722;transform:scaleX(0.947);">140.000</div>
<div class="t" style="left:1183.3px;top:261.9px;font-size:12.5px;line-height:12.5px;color:#131722;transform:scaleX(0.947);">152.000</div>

<!-- legend overlays -->
<div class="abs" style="left:63px;top:97px;width:83px;height:45px;background:rgba(255,255,255,0.62)"></div>
<div class="abs" style="left:64px;top:145px;width:29px;height:21px;background:rgba(255,255,255,0.75);border:1px solid #e0e3eb;border-radius:3px"></div>
<svg class="abs" style="left:0;top:0" width="1289" height="721">
 <path d="M74.7 157.6 L78.5 154 L82.4 157.6" fill="none" stroke="#131722" stroke-width="1.1"/>
 <!-- legend pill -->
 <rect x="63.5" y="49.5" width="41" height="17" rx="8.5" fill="#fce4ec"/>
 <path d="M72 49.5 H84 V66.5 H72 A8.5 8.5 0 0 1 72 49.5 Z" fill="#daf0ec"/>
 <circle cx="75.2" cy="58.2" r="4" fill="#15927c"/>
 <text x="88" y="63" font-family="Liberation Sans" font-size="14" font-weight="bold" fill="#e0407a">≈</text>
 <!-- vol eye icon -->
 <g fill="none" stroke="#2a2e39" stroke-width="1">
  <path d="M134.5 82.5 Q142 74.8 149.5 82.5 Q142 90.2 134.5 82.5Z"/>
  <circle cx="142" cy="82.5" r="2.6"/>
  <path d="M136.5 88.5 L148 76.5"/>
 </g>
 <!-- TV logo -->
 <path d="M68.1 583.1 H80.4 V597.4 H73.6 V588.6 H68.1 Z" fill="#131722"/>
 <circle cx="85.2" cy="585.9" r="2.75" fill="#131722"/>
 <path d="M89.4 583.1 H97.4 L92.5 597.4 H84.5 Z" fill="#131722"/>
 <!-- lightning circle -->
 <circle cx="1034.4" cy="599.2" r="9.7" fill="#fff" stroke="#82308f" stroke-width="1.3"/>
 <path d="M1037.7 594.3 L1030.8 599.7 H1034.6 L1031.2 604.6 L1038.2 599.2 H1034.4 Z" fill="#82308f"/>
 <!-- time axis settings hex -->
 <g fill="none" stroke="#131722" stroke-width="1.2">
  <path d="M1203.5 626.5 L1207 620.5 H1214 L1217.5 626.5 L1214 632.5 H1207 Z" transform="translate(-3,0)"/>
  <circle cx="1207.5" cy="626.5" r="2.2"/>
 </g>
 <!-- range bar separator & calendar -->
 <line x1="332.5" y1="648.5" x2="332.5" y2="670.5" stroke="#e3e3e3"/>
 <g fill="none" stroke="#131722" stroke-width="1.2">
  <path d="M347.5 658.5 V654.5 Q347.5 652.5 349.5 652.5 H362.5 Q364.5 652.5 364.5 654.5 V665.5 Q364.5 667.5 362.5 667.5 H356.3"/>
  <path d="M347.5 656.5 H364.5"/>
  <path d="M352.5 650 V654 M359.5 650 V654"/>
  <path d="M346.2 664.5 H353.7 M350.4 661.2 L353.7 664.5 L350.4 667.8"/>
 </g>
 <line x1="56" y1="640.5" x2="1240" y2="640.5" stroke="#e8e8ea"/>
 <!-- bottom panel icons -->
 <path d="M1177 704 L1185 697.2 L1193 704" fill="none" stroke="#131722" stroke-width="1.3"/>
 <g fill="none" stroke="#131722" stroke-width="1.3">
  <path d="M1213.5 699 V696.5 Q1213.5 694.5 1215.5 694.5 H1226 Q1228 694.5 1228 696.5 V699"/>
  <path d="M1213.5 705 V707.5 Q1213.5 709.5 1215.5 709.5 H1226 Q1228 709.5 1228 707.5 V705"/>
 </g>
</svg>

<!-- top toolbar icons -->
<svg class="abs" style="left:0;top:0" width="1289" height="38">
 <circle cx="26" cy="19" r="12.8" fill="#a67b63"/>
 <g fill="none" stroke="#131722" stroke-width="1.5" stroke-linecap="round">
  <circle cx="69.8" cy="17.6" r="5.7"/>
  <path d="M73.9 21.8 L77.4 25.4"/>
 </g>
 <g fill="none" stroke="#131722" stroke-width="1.2">
  <circle cx="170.4" cy="19.5" r="9.2"/>
  <path d="M166.2 19.5 H174.6 M170.4 15.3 V23.7"/>
  <path d="M260.3 9 V12.5 M260.3 25.5 V29 M268.5 12 V15.2 M268.5 22.9 V26"/>
  <rect x="258.2" y="12.5" width="4.2" height="13" rx="0.8"/>
  <rect x="266.5" y="15.2" width="4" height="7.7" rx="0.8"/>
  <path d="M302.9 16.9 L308.2 11.9 L312.5 15.4 L319.8 9.9"/>
  <path d="M303.4 27.2 V23.3 H307.6 V27.2 M307.6 27.2 V20.4 H311.7 V27.2 M311.7 27.2 V22.5 H315.7 V27.2 M315.7 27.2 V17.2 H319.6 V27.2 M303 27.2 H320"/>
  <path d="M409.5 17.2 L413.2 20.8 L416.9 17.2"/>
  <rect x="436.8" y="12.2" width="5.8" height="5.4" rx="1.8"/>
  <rect x="445.2" y="12.2" width="5.8" height="5.4" rx="1.8"/>
  <rect x="436.8" y="20.4" width="5.8" height="5.4" rx="1.8"/>
  <rect x="445.2" y="20.4" width="5.8" height="5.4" rx="1.8"/>
  <path d="M490.4 27.4 A8.2 8.2 0 1 1 498.6 19.6"/>
  <path d="M490.5 14.3 V19.6 H487.3"/>
  <path d="M481.1 13.5 L484.6 9.8 M499.7 13.5 L496.2 9.8"/>
  <path d="M492.3 25.4 H500.9 M496.5 21.1 V29.7"/>
  <path d="M568.8 15.5 L563.2 19.8 L568.8 24.1 Z M576.2 15.5 L570.6 19.8 L576.2 24.1 Z"/>
  <path d="M663 13.9 L659.6 17.4 L663 20.8 M659.8 17.4 H666.7 Q671.7 17.4 671.7 23.9"/>
 </g>
 <path d="M706.5 13.9 L709.9 17.4 L706.5 20.8 M709.7 17.4 H702.1 Q697.1 17.4 697.1 23.9" fill="none" stroke="#a3a6af" stroke-width="1.2"/>
 <g fill="none" stroke="#e3e3e3" stroke-width="1">
  <path d="M194.5 8.5 V29.5 M240.5 8.5 V29.5 M287.5 8.5 V29.5 M467.5 8.5 V29.5 M642.5 8.5 V29.5 M1054.5 8.5 V29.5"/>
 </g>
 <g fill="none" stroke="#131722" stroke-width="1.4">
  <rect x="928.4" y="11.3" width="18" height="15.9" rx="3"/>
  <path d="M1034.2 17 L1038.1 20.8 L1042 17" stroke-width="1.2"/>
 </g>
 <g fill="none" stroke="#131722" stroke-width="1.2">
  <path d="M1074.3 11.4 A7.2 7.2 0 1 0 1083.5 18.4"/>
  <path d="M1081.7 23.7 L1086.8 28.8"/>
  <path d="M1080.1 8.3 L1075.5 14.7 L1077.9 15 L1078.8 20.4 L1083.7 14 L1081.2 13.7 Z" stroke-linejoin="round" stroke-width="1.1"/>
  <path d="M1106.2 18.8 L1111 10.6 H1121 L1125.8 18.8 L1121 27 H1111 Z"/>
  <circle cx="1116" cy="18.8" r="3.8"/>
  <path d="M1146.3 16 V13.5 Q1146.3 11.8 1148 11.8 H1150.5 M1157.5 11.8 H1160 Q1161.7 11.8 1161.7 13.5 V16 M1161.7 22 V24.4 Q1161.7 26.1 1160 26.1 H1157.5 M1150.5 26.1 H1148 Q1146.3 26.1 1146.3 24.4 V22"/>
  <path d="M1181.5 14.5 Q1181.5 13 1183 13 H1186 L1187.8 10.6 H1195.2 L1197 13 H1200.2 Q1201.7 13 1201.7 14.5 V24.8 Q1201.7 26.3 1200.2 26.3 H1183 Q1181.5 26.3 1181.5 24.8 Z"/>
  <circle cx="1191.6" cy="19.2" r="4"/>
 </g>
 <rect x="1214.7" y="5" width="69" height="27.6" rx="13.8" fill="#232323"/>
</svg>

<!-- left toolbar -->
<div class="abs" style="left:9.3px;top:50px;width:33.7px;height:33.5px;background:#ebebeb;border-radius:5px"></div>
<svg class="abs" style="left:0;top:42px" width="52" height="679" viewBox="0 42 52 679">
 <g fill="none" stroke="#131722" stroke-width="1.1">
  <path d="M19.3 59.3 L29.9 65.9 L26.2 67.4 L29.4 73.7 L26.9 74.9 L23.8 68.7 L19.3 72.4 Z" stroke-linejoin="round"/>
  <path d="M16.2 105.5 H24.3 M28.7 105.5 H36.7"/><circle cx="26.5" cy="105.5" r="2.2"/>
  <path d="M15 133.5 H36.7 M15 139.5 H34.5 M15 145.5 H36.7 M17.2 151.5 H36.7"/>
  <circle cx="36.5" cy="139.5" r="2.2"/><circle cx="15" cy="151.5" r="2.2"/>
  <circle cx="19.8" cy="172.3" r="2"/><circle cx="32.5" cy="173" r="2"/><circle cx="24.5" cy="179.9" r="2"/><circle cx="17.2" cy="189.2" r="2"/><circle cx="35.6" cy="186.2" r="2"/>
  <path d="M19.5 174.3 L17.4 187.2 M18.6 188 L23.3 181.4 M21.4 173.8 L23.4 178.2 M26.4 179 L30.8 174.2 M33 175 L35.2 184.2 M26.4 180.9 L33.8 185.3"/>
  <circle cx="16.4" cy="211.5" r="2"/><circle cx="16.4" cy="221.5" r="2"/><circle cx="16.4" cy="227.5" r="2"/><circle cx="34.3" cy="221.5" r="2"/>
  <path d="M18.4 211.5 H35.8 M18.4 221.5 H32.3 M18.4 227.5 H35.8"/>
  <path d="M21.4 219.1 L34 213.5" stroke-dasharray="1 3" stroke-width="1.3"/>
  <path d="M14.7 265.5 L25 265.5 Q29.6 263.2 29.3 259 Q28.6 254.8 24.4 254.8 Q21.2 254.8 19.9 257.4 Z" stroke-linejoin="round"/>
  <path d="M30.2 249.4 Q27.6 252.4 29.5 254.4 Q31.5 256.3 33.5 254.5 L39.6 249.2"/>
  <path d="M19.2 287 H34 M26.6 287 V303.3 M23.3 303.3 H29.9 M19.2 287 V289.5 M34 287 V289.5"/>
  <circle cx="26.2" cy="332.6" r="10.6"/><circle cx="22.6" cy="329.6" r="0.9" fill="#131722"/><circle cx="29.8" cy="329.6" r="0.9" fill="#131722"/>
  <path d="M22.2 335 Q26.2 339 30.2 335"/>
  <path d="M15.5 390.5 L33.8 374.3 L37.6 378.5 L19.3 394.7 Z"/>
  <path d="M21.5 385.5 L23 387.2 M24.5 382.7 L26.5 385 M27.6 380 L29.1 381.7 M30.5 377.2 L32.3 379.3"/>
  <circle cx="24.4" cy="420.9" r="8.3"/>
  <path d="M30.4 426.9 L34 430.5 M20.2 420.9 H28.6 M24.4 416.7 V425.1"/>
  <path d="M18.2 481 V470.5 A8 8 0 0 1 34.2 470.5 V481 H29.6 V470.5 A3.4 3.4 0 0 0 22.8 470.5 V481 Z M18.2 476.5 H22.8 M29.6 476.5 H34.2"/>
  <path d="M14.8 516 L15.8 511.5 L26.5 501 Q28.3 499.8 29.7 501.3 Q31 502.8 29.6 504.4 L19 515 Z M24.8 502.7 L27.9 505.8"/>
  <rect x="27.8" y="515" width="7.8" height="6.6" rx="1.2"/><path d="M29.3 515 V512.8 A2.3 2.3 0 0 1 33.8 512.5"/>
  <rect x="18.3" y="547.8" width="15.2" height="10.6" rx="1.8"/><path d="M21.3 547.8 V543.8 A4 4 0 0 1 29 542.6"/><path d="M25.9 551.2 V554.8" stroke-width="1.6"/>
  <path d="M15.8 582.5 Q25 571.5 34.2 582.5 Q25 593.5 15.8 582.5 Z"/><circle cx="25" cy="582.3" r="3.3"/>
  <path d="M27.5 596.8 Q29 592.5 32.5 593 L36.8 590.8 M27.3 597 Q31 597.5 32.6 594"/>
  <path d="M17 631 H35 M22.2 631 V628.5 Q22.2 627 23.7 627 H28.3 Q29.8 627 29.8 628.5 V631 M19.3 631 L20.6 647.2 H31 L32.3 631"/>
 </g>
 <path d="M8.5 447.5 H44 M8 612.5 H44" stroke="#e3e3e3" stroke-width="1"/>
</svg>

<!-- right toolbar -->
<svg class="abs" style="left:1244px;top:42px" width="45" height="679" viewBox="1244 42 45 679">
 <g fill="none" stroke="#131722" stroke-width="1.2">
  <path d="M1257.2 55.2 H1276.8 V77.7 L1267 72.6 L1257.2 77.7 Z"/>
  <path d="M1260.8 60 H1273.1 M1260.8 64.1 H1273.1 M1260.8 68.3 H1273.1"/>
  <circle cx="1266.9" cy="112" r="10.6"/>
  <path d="M1267.5 106 V113.5 H1262.1 M1254.3 104.6 L1260.3 99.1 M1279.7 104.6 L1274 99.1"/>
  <path d="M1255.5 154.2 L1266.7 148.2 L1277.9 154.2 L1266.7 160.2 Z M1255.5 160.2 L1266.7 166.4 L1277.9 160.2"/>
  <path d="M1255.6 212.6 V195.5 Q1255.6 193.7 1257.4 193.7 H1272.6 Q1274.4 193.7 1274.4 195.5 V207.5 Q1274.4 209.3 1272.6 209.3 H1259.2 Z"/>
  <path d="M1274.4 200.8 H1276.8 Q1278.6 200.8 1278.6 202.6 V216.3 L1275 212.8 H1266.2 Q1264.4 212.8 1264.4 211 V209.3"/>
  <circle cx="1267" cy="456.3" r="13"/><circle cx="1267" cy="456.3" r="6.3"/><circle cx="1267" cy="456.3" r="1.8" fill="#131722"/><path d="M1267 456.3 L1275.3 447.3"/>
  <rect x="1255.4" y="493" width="23" height="20" rx="3"/><path d="M1255.4 497.8 H1278.4"/>
  <rect x="1259.2" y="490" width="2.4" height="5.2" rx="1" fill="#fff"/><rect x="1272.2" y="490" width="2.4" height="5.2" rx="1" fill="#fff"/>
  <path d="M1256.4 548.4 A9.3 9.3 0 0 1 1265.7 557.7 M1256.4 542.6 A15.1 15.1 0 0 1 1271.5 557.7 M1256.4 536.7 A21 21 0 0 1 1277.4 557.7"/>
  <circle cx="1257.9" cy="556" r="1.3"/>
  <path d="M1257.9 599.7 V590 Q1257.9 584.5 1262 582.2 L1264.8 580.7 Q1269.5 579.6 1272.5 581.5 Q1276.4 584.5 1276.4 590 V599.7"/>
  <rect x="1255.3" y="599.7" width="23.3" height="4.1" rx="2"/>
  <path d="M1263.5 603.8 Q1266.6 607.6 1269.8 603.8"/>
  <circle cx="1267" cy="697" r="13.7"/>
  <path d="M1262.8 692.2 Q1262.8 687.8 1267 687.8 Q1271.2 687.8 1271.2 692 Q1271.2 694.5 1268.5 696 Q1267 697 1267 699.5 V701"/>
  <circle cx="1267" cy="704.2" r="1.2"/>
 </g>
 <circle cx="1277" cy="536.7" r="7.6" fill="#e8303f"/>
 <circle cx="1277" cy="582.8" r="7.6" fill="#e8303f"/>
 <text x="1277" y="541" font-family="Liberation Sans" font-size="12" font-weight="bold" fill="#fff" text-anchor="middle">2</text>
 <text x="1277" y="587.1" font-family="Liberation Sans" font-size="12" font-weight="bold" fill="#fff" text-anchor="middle">2</text>
 <circle cx="1267" cy="639.6" r="17" fill="#262626"/>
 <g fill="#fff">
  <rect x="1258.3" y="631.4" width="3.6" height="3.6" rx="0.8"/><rect x="1265.2" y="631.4" width="3.6" height="3.6" rx="0.8"/><rect x="1272.1" y="631.4" width="3.6" height="3.6" rx="0.8"/>
  <rect x="1258.3" y="638.3" width="3.6" height="3.6" rx="0.8"/><rect x="1265.2" y="638.3" width="3.6" height="3.6" rx="0.8"/><rect x="1272.1" y="638.3" width="3.6" height="3.6" rx="0.8"/>
  <rect x="1258.3" y="645.2" width="3.6" height="3.6" rx="0.8"/><rect x="1265.2" y="645.2" width="3.6" height="3.6" rx="0.8"/><rect x="1272.1" y="645.2" width="3.6" height="3.6" rx="0.8"/>
 </g>
 <path d="M1250 668.5 H1284" stroke="#e3e3e3"/>
 <path d="M1283 721 Q1289 719 1289 712 V721 Z" fill="#6b1020"/>
</svg>
<svg class="abs" style="left:0;top:700px" width="10" height="21"><path d="M0 13 Q1 20 7 21 H0 Z" fill="#6b1020"/></svg>


<div class="abs" style="left:1125px;top:150px;width:49px;height:16.5px;background:#f23645;border-radius:2px"></div>
<div class="abs" style="left:1175px;top:150px;width:60px;height:30.5px;background:#f23645;border-radius:0 3px 3px 0"></div>
<div class="abs" style="left:1175px;top:235.3px;width:56px;height:16.5px;background:#2962ff;border-radius:0 3px 3px 0"></div>
<div class="abs" style="left:1175px;top:252.3px;width:56px;height:16.5px;background:#f23645;border-radius:0 3px 3px 0"></div>
<div class="abs" style="left:1175px;top:309.5px;width:56px;height:16.3px;background:#2962ff;border-radius:0 3px 3px 0"></div>
<div class="abs" style="left:1175px;top:326px;width:56px;height:16.3px;background:#2a2ae6;border-radius:0 3px 3px 0"></div>
<div class="t" style="left:1130.5px;top:152.2px;font-size:12.5px;line-height:12.5px;color:#fff;font-weight:bold;transform:scaleX(0.770);">USDJPY</div>
<div class="t" style="left:1184.0px;top:152.2px;font-size:12.5px;line-height:12.5px;color:#fff;font-weight:bold;transform:scaleX(0.901);">156.478</div>
<div class="t" style="left:1183.0px;top:166.4px;font-size:12.5px;line-height:12.5px;color:#fff;font-weight:bold;transform:scaleX(0.919);">02:34:28</div>
<div class="t" style="left:1183.3px;top:237.4px;font-size:12.5px;line-height:12.5px;color:#fff;font-weight:bold;transform:scaleX(0.921);">153.000</div>
<div class="t" style="left:1183.3px;top:254.4px;font-size:12.5px;line-height:12.5px;color:#fff;font-weight:bold;transform:scaleX(0.921);">152.341</div>
<div class="t" style="left:1183.3px;top:311.4px;font-size:12.5px;line-height:12.5px;color:#fff;font-weight:bold;transform:scaleX(0.921);">150.000</div>
<div class="t" style="left:1183.3px;top:328.1px;font-size:12.5px;line-height:12.5px;color:#fff;font-weight:bold;transform:scaleX(0.921);">149.506</div>
<div class="t" style="left:84.6px;top:12.2px;font-size:13.5px;line-height:13.5px;color:#131722;font-weight:bold;transform:scaleX(0.898);">USDJPY</div>
<div class="t" style="left:214.0px;top:12.0px;font-size:14px;line-height:14px;color:#131722;font-weight:bold;transform:scaleX(0.752);">D</div>
<div class="t" style="left:329.3px;top:11.9px;font-size:14px;line-height:14px;color:#131722;">Indicators</div>
<div class="t" style="left:509.0px;top:11.9px;font-size:14px;line-height:14px;color:#131722;transform:scaleX(1.028);">Alert</div>
<div class="t" style="left:587.0px;top:11.9px;font-size:14px;line-height:14px;color:#131722;transform:scaleX(0.941);">Replay</div>
<div class="t" style="left:961.9px;top:7.6px;font-size:14px;line-height:14px;color:#131722;transform:scaleX(0.956);">Unnamed</div>
<div class="t" style="left:980.9px;top:21.4px;font-size:10.5px;line-height:10.5px;color:#2a5ba8;transform:scaleX(0.844);">Save</div>
<div class="t" style="left:1227.4px;top:12.2px;font-size:13.5px;line-height:13.5px;color:#ffffff;font-weight:bold;transform:scaleX(0.911);">Publish</div>
<div class="t" style="left:20.8px;top:10.5px;font-size:17px;line-height:17px;color:#ffffff;">T</div>
<div class="t" style="left:111.9px;top:51.9px;font-size:13px;line-height:13px;color:#131722;transform:scaleX(0.954);">O157.506&nbsp; H157.543&nbsp; L156.202&nbsp; C156.478&nbsp; −0.988 (−0.63%)</div>
<div class="t" style="left:65.3px;top:76.1px;font-size:13px;line-height:13px;color:#b4b4b4;transform:scaleX(0.986);">Vol · Ticks</div>
<div class="t" style="left:65.0px;top:100.1px;font-size:13px;line-height:13px;color:#131722;transform:scaleX(0.852);">EMA</div>
<div class="t" style="left:97.9px;top:100.1px;font-size:13px;line-height:13px;color:#d06070;transform:scaleX(0.926);">152.341</div>
<div class="t" style="left:65.0px;top:124.1px;font-size:13px;line-height:13px;color:#131722;transform:scaleX(0.852);">EMA</div>
<div class="t" style="left:97.9px;top:124.1px;font-size:13px;line-height:13px;color:#3b3bc8;transform:scaleX(0.926);">149.506</div>
<div class="t" style="left:85.9px;top:620.1px;font-size:12.5px;line-height:12.5px;color:#131722;font-weight:bold;transform:scaleX(0.920);">2025</div>
<div class="t" style="left:178.0px;top:620.1px;font-size:12.5px;line-height:12.5px;color:#131722;transform:scaleX(0.920);">Feb</div>
<div class="t" style="left:259.0px;top:620.1px;font-size:12.5px;line-height:12.5px;color:#131722;transform:scaleX(0.920);">Mar</div>
<div class="t" style="left:345.0px;top:620.1px;font-size:12.5px;line-height:12.5px;color:#131722;transform:scaleX(0.920);">Apr</div>
<div class="t" style="left:431.7px;top:620.1px;font-size:12.5px;line-height:12.5px;color:#131722;transform:scaleX(0.920);">May</div>
<div class="t" style="left:522.2px;top:620.1px;font-size:12.5px;line-height:12.5px;color:#131722;transform:scaleX(0.920);">Jun</div>
<div class="t" style="left:609.4px;top:620.1px;font-size:12.5px;line-height:12.5px;color:#131722;transform:scaleX(0.920);">Jul</div>
<div class="t" style="left:699.8px;top:620.1px;font-size:12.5px;line-height:12.5px;color:#131722;transform:scaleX(0.920);">Aug</div>
<div class="t" style="left:784.7px;top:620.1px;font-size:12.5px;line-height:12.5px;color:#131722;transform:scaleX(0.920);">Sep</div>
<div class="t" style="left:874.9px;top:620.1px;font-size:12.5px;line-height:12.5px;color:#131722;transform:scaleX(0.920);">Oct</div>
<div class="t" style="left:966.8px;top:620.1px;font-size:12.5px;line-height:12.5px;color:#131722;transform:scaleX(0.920);">Nov</div>
<div class="t" style="left:1047.5px;top:620.1px;font-size:12.5px;line-height:12.5px;color:#131722;transform:scaleX(0.920);">Dec</div>
<div class="t" style="left:1138.0px;top:620.1px;font-size:12.5px;line-height:12.5px;color:#131722;font-weight:bold;transform:scaleX(0.920);">2026</div>
<div class="t" style="left:70.9px;top:653.8px;font-size:13px;line-height:13px;color:#131722;transform:scaleX(0.879);">1D</div>
<div class="t" style="left:98.5px;top:653.8px;font-size:13px;line-height:13px;color:#131722;transform:scaleX(0.933);">5D</div>
<div class="t" style="left:126.8px;top:653.8px;font-size:13px;line-height:13px;color:#131722;transform:scaleX(0.925);">1M</div>
<div class="t" style="left:155.9px;top:653.8px;font-size:13px;line-height:13px;color:#131722;transform:scaleX(0.947);">3M</div>
<div class="t" style="left:184.5px;top:653.8px;font-size:13px;line-height:13px;color:#131722;transform:scaleX(0.958);">6M</div>
<div class="t" style="left:214.0px;top:653.8px;font-size:13px;line-height:13px;color:#131722;transform:scaleX(0.931);">YTD</div>
<div class="t" style="left:250.9px;top:653.8px;font-size:13px;line-height:13px;color:#131722;transform:scaleX(0.956);">1Y</div>
<div class="t" style="left:278.2px;top:653.8px;font-size:13px;line-height:13px;color:#131722;transform:scaleX(0.956);">5Y</div>
<div class="t" style="left:305.2px;top:653.8px;font-size:13px;line-height:13px;color:#131722;transform:scaleX(1.114);">All</div>
<div class="t" style="left:1146.8px;top:653.8px;font-size:13px;line-height:13px;color:#131722;transform:scaleX(1.016);">19:25:30 UTC</div>
<div class="t" style="left:105.3px;top:580.5px;font-size:20px;line-height:20px;color:#131722;font-weight:bold;transform:scaleX(1.026);">TradingView</div>
<div class="t" style="left:72.0px;top:695.1px;font-size:14px;line-height:14px;color:#131722;">Pine Editor</div>
<div class="t" style="left:173.0px;top:695.1px;font-size:14px;line-height:14px;color:#131722;transform:scaleX(0.958);">Trading Panel</div>
</body></html>
